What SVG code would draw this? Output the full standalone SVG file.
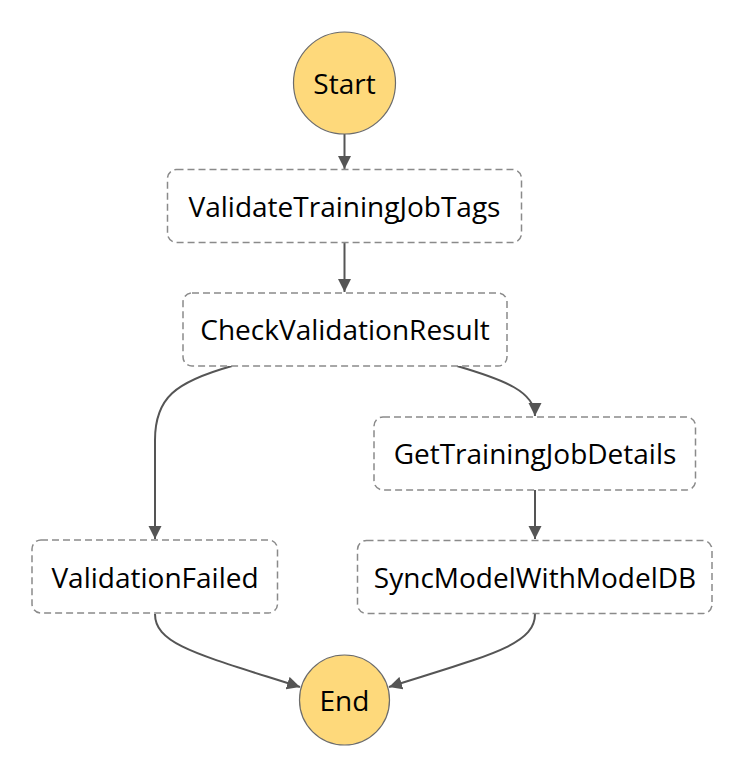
<svg xmlns="http://www.w3.org/2000/svg" width="742" height="778" viewBox="0 0 742 778">
<style>
  .state rect { fill: #ffffff; stroke: #8a8a8a; stroke-width: 1.5; stroke-dasharray: 7 4; }
  .term circle { fill: #fed97b; stroke: #6b6b6b; stroke-width: 1.2; }
  text { font-family: "Open Sans", "Noto Sans", sans-serif; font-size: 28px; fill: #000000; text-anchor: middle; }
  .edge { fill: none; stroke: #555555; stroke-width: 2; marker-end: url(#arrow); }
</style>
<defs>
  <marker id="arrow" markerUnits="userSpaceOnUse" markerWidth="14" markerHeight="14" refX="13" refY="7" orient="auto">
    <path d="M0,0.5 L13,7 L0,13.5 z" fill="#555555"/>
  </marker>
</defs>
<rect width="742" height="778" fill="#ffffff"/>
<g id="connectors">
  <path class="edge" d="M344.5,134 L344.5,169"/>
  <path class="edge" d="M344.5,243 L344.5,292"/>
  <path class="edge" d="M232,366 C175,382 155,398 155,440 L155,539"/>
  <path class="edge" d="M457,366 C505,380 535,392 535,416"/>
  <path class="edge" d="M535,490 L535,539"/>
  <path class="edge" d="M155,614 C155,645 200,655 300,687"/>
  <path class="edge" d="M535,614 C535,645 490,655 389,687"/>
</g>
<g id="Start" class="term">
  <circle cx="344.5" cy="83" r="51"/>
  <text x="344.5" y="93.5">Start</text>
</g>
<g id="ValidateTrainingJobTags" class="state">
  <rect x="167.5" y="169.5" width="354" height="73" rx="9"/>
  <text x="344.5" y="216.5">ValidateTrainingJobTags</text>
</g>
<g id="CheckValidationResult" class="state">
  <rect x="183" y="293" width="324" height="73" rx="9"/>
  <text x="345" y="340">CheckValidationResult</text>
</g>
<g id="GetTrainingJobDetails" class="state">
  <rect x="374" y="417" width="321.5" height="73" rx="9"/>
  <text x="535" y="464">GetTrainingJobDetails</text>
</g>
<g id="ValidationFailed" class="state">
  <rect x="32" y="540" width="245.5" height="73" rx="9"/>
  <text x="155" y="587.5">ValidationFailed</text>
</g>
<g id="SyncModelWithModelDB" class="state">
  <rect x="357.5" y="540.5" width="354.5" height="73" rx="9"/>
  <text x="535" y="587.5">SyncModelWithModelDB</text>
</g>
<g id="End" class="term">
  <circle cx="344.5" cy="700" r="45"/>
  <text x="344.5" y="710.5">End</text>
</g>
</svg>
